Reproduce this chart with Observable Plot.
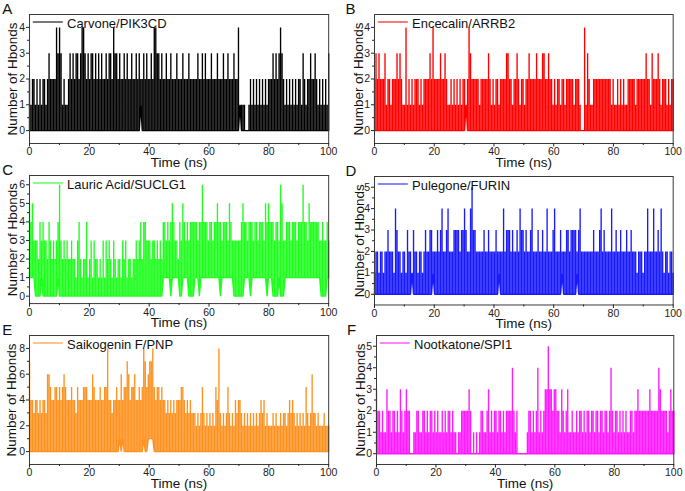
<!DOCTYPE html>
<html><head><meta charset="utf-8">
<script src="https://cdn.jsdelivr.net/npm/d3@7"></script>
<script src="https://cdn.jsdelivr.net/npm/@observablehq/plot@0.6"></script>
<style>
html,body{margin:0;padding:0;background:#fff}
#wrap{position:relative;width:685px;height:491px;overflow:hidden}
#wrap svg{position:absolute;overflow:visible}
</style>
</head><body><div id="wrap"></div>
<script>
// ---- data: per 0.5 ns bin, max (hi) and min (lo) H-bond count, chunks of 5 ns ----
const names = ["Carvone/PIK3CD","Encecalin/ARRB2","Lauric Acid/SUCLG1","Pulegone/FURIN","Saikogenin F/PNP","Nootkatone/SPI1"];
const letters = ["A","B","C","D","E","F"];
const xTicks = [0,20,40,60,80,100];
const xMinorTicks = [10,30,50,70,90];
const yTicksA = [0,1,2,3,4], yTicksB = [0,1,2,3,4], yTicksC = [0,1,2,3,4,5,6];
const yTicksD = [0,1,2,3,4,5], yTicksE = [0,2,4,6,8], yTicksF = [0,1,2,3,4,5];
const Z = "0000000000";

const hiA = ["2122121212","2123222243","4312112323","2332344323","2332323232","2323324332","3223232232","2323223232","2324433232","2322322232",
             "2232223222","2232232322","2322232223","2232223224","1111001212","1212121212","2232323432","1212121212","2132122322","3212121213"];
const loA = [Z,Z,Z,Z,Z,Z,Z,"0000100000",Z,Z, Z,Z,Z,Z,"1000000000",Z,Z,Z,Z,Z];

const hiB = ["2323222312","2122232321","1412121222","1212222324","2222322321","1212121212","2124322222","1222223212","1221222233","2212232122",
             "1223222232","2233223221","2122122122","2221222100","4132112222","2222222212","1121212112","2222122222","2322132223","2122212122"];
const loB = [Z,Z,Z,Z,Z,Z,"0100000000",Z,Z,Z, Z,Z,Z,Z,Z,Z,Z,Z,Z,Z];

const hiC = ["5453332434","3324323234","6323232232","2134212241","2313221213","1323213212","2132312212","2323424433","3233232324","4343454332",
             "4354343444","4434464443","4434454434","4435433333","3454434443","4434443545","4443443653","3444344434","4464435444","4443343343"];
const loC = ["1111000010","0000000001",Z,Z,Z,Z,Z,Z,"0000000001","1111011111",
             "0011110000","1110111111","1111111011","1111110000","0001111011","1111111101","1100001000","1111111111","1111111111","1111000011"];

const hiD = ["1221221223","2221432212","2132213221","2212322332","2232342234","2223333233","4322453322","2223223222","2322224233","3232232433",
             "2322342223","2232242223","4222322233","2333323422","2222223222","3423222242","2322322232","2322212221","2242224223","2421221221"];
const loD = [Z,Z,"0000010000","0000000001",Z,Z,Z,Z,"0001000000",Z, Z,Z,"0000010000","0000010000",Z,Z,Z,Z,Z,Z];

const hiE = ["7443443434","4366544554","5456544454","4354445554","4465444544","5584434454","4645576455","6445458756","7785455454","4343434344",
             "4554343433","3232353232","3232548323","2353232434","4323232323","2323434232","2232322323","3234343232","3232532363","3232223222"];
const loE = [Z,Z,Z,Z,Z,Z,"1010000000","0000001001","1110000000",Z, Z,Z,Z,Z,Z,Z,Z,Z,Z,Z];

const hiF = ["3221211322","1221213212","3220011221","1221212212","1211212122","1211011222","2232010101","2211231212","2122121222","2421200000",
             "0122121241","2123353323","3221321231","1211212212","1221221221","2212212421","2212121211","2212232222","2223222224","3222212322"];
const loF = [Z,Z,Z,Z,Z,Z,Z,Z,Z,Z, Z,Z,Z,Z,Z,Z,Z,Z,Z,Z];

const series = [[hiA,loA],[hiB,loB],[hiC,loC],[hiD,loD],[hiE,loE],[hiF,loF]];
const yTicks = [yTicksA,yTicksB,yTicksC,yTicksD,yTicksE,yTicksF];

// ---- styles / layout ----
const colors = ["#000000","#ff0000","#1eff1e","#1a1aff","#fd9220","#ff1aff"];
const yDomains = [[-0.5,4.5],[-0.5,4.5],[-0.4,6.5],[-0.5,5.5],[-1,9],[-0.5,5.5]];
const layout = [
  {x0:29.3, x1:328.5, y0:13.5, y1:142.5, ylab:16.7, letterX:2},
  {x0:374,  x1:672.7, y0:13.5, y1:142.5, ylab:362.7, letterX:345},
  {x0:29.3, x1:328.5, y0:175,  y1:303.1, ylab:16.5, letterX:2},
  {x0:374,  x1:672.7, y0:176,  y1:304.5, ylab:363.3, letterX:345},
  {x0:29.3, x1:328.5, y0:335,  y1:464,   ylab:16,   letterX:2},
  {x0:376,  x1:673.3, y0:335,  y1:464,   ylab:364,  letterX:346.5}
];
const ML = 30, MR = 12, MT = 16, MB = 30;
const FONT = "'Liberation Sans', Arial, Helvetica, sans-serif";

function comb(hiChunks, loChunks) {
  const hi = hiChunks.join(""), lo = loChunks.join("");
  const n = hi.length, rows = [];
  for (let j = 0; j < n; j++) {
    const t = j * 100 / (n - 1);
    const h = +hi[j], l = +lo[j];
    rows.push({t, v: l}, {t, v: h}, {t, v: l});
  }
  return rows;
}

const wrap = document.getElementById("wrap");
layout.forEach((L, i) => {
  const [hi, lo] = series[i];
  const data = comb(hi, lo);
  const yd = yDomains[i];
  const maj = yTicks[i];
  const step = maj[1] - maj[0];
  const minor = d3.range(maj[0] + step/2, yd[1], step);
  const fw = L.x1 - L.x0, fh = L.y1 - L.y0;
  const svg = Plot.plot({
    width: fw + ML + MR, height: fh + MT + MB,
    marginLeft: ML, marginRight: MR, marginTop: MT, marginBottom: MB,
    x: {domain: [0, 100], label: null},
    y: {domain: yd, label: null},
    style: {fontFamily: FONT, fontSize: "10.5px", color: "#222", background: "transparent", overflow: "visible"},
    marks: [
      Plot.line(data, {x: "t", y: "v", stroke: colors[i], strokeWidth: 1.35, strokeLinejoin: "miter"}),
      Plot.frame({stroke: "#3a3a3a", strokeWidth: 1}),
      Plot.axisX(xTicks, {tickSize: 3.5, tickPadding: 1, label: null, fontSize: 10.5}),
      Plot.axisX(xMinorTicks, {tickSize: 2, fill: "none", label: null}),
      Plot.axisY(maj, {tickSize: 3, tickPadding: 1.5, label: null, fontSize: 10.5}),
      Plot.axisY(minor, {tickSize: 2, fill: "none", label: null}),
      Plot.text(["Time (ns)"], {text: d => d, frameAnchor: "bottom", dy: 23.5, lineAnchor: "bottom", textAnchor: "middle", fontSize: 13.5, fill: "#111"}),
      Plot.text(["Number of Hbonds"], {text: d => d, frameAnchor: "left", dx: L.ylab - L.x0, rotate: -90, lineAnchor: "bottom", textAnchor: "middle", fontSize: 13.5, fill: "#111"}),
      Plot.text([letters[i]], {text: d => d, frameAnchor: "top-left", dx: L.letterX - L.x0, dy: -0.5, lineAnchor: "bottom", textAnchor: "start", fontSize: 15, fill: "#111"}),
      Plot.text([names[i]], {text: d => d, frameAnchor: "top-left", dx: 37.5, dy: 13.3, lineAnchor: "bottom", textAnchor: "start", fontSize: 13, fill: "#111"})
    ]
  });
  d3.select(svg).append("line")
    .attr("x1", ML + 3.8).attr("x2", ML + 33.8)
    .attr("y1", MT + 8).attr("y2", MT + 8)
    .attr("stroke", colors[i]).attr("stroke-width", 1.5).attr("opacity", 0.7);
  svg.style.left = (L.x0 - ML) + "px";
  svg.style.top = (L.y0 - MT) + "px";
  wrap.appendChild(svg);
});
</script></body></html>
